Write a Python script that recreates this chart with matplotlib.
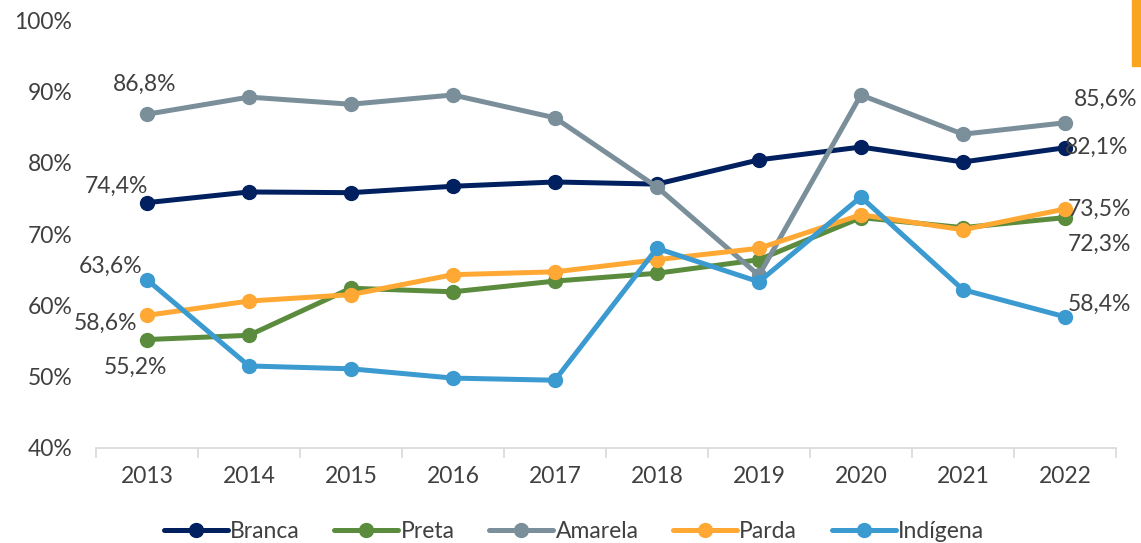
import numpy as np
import matplotlib
matplotlib.use("Agg")
import matplotlib.pyplot as plt
from matplotlib.patches import Rectangle

# Data
years = ["2013", "2014", "2015", "2016", "2017", "2018", "2019", "2020", "2021", "2022"]
branca = [74.4, 75.9, 75.8, 76.7, 77.3, 77.0, 80.4, 82.2, 80.1, 82.1]
preta = [55.2, 55.8, 62.4, 61.9, 63.4, 64.5, 66.4, 72.3, 70.9, 72.3]
amarela = [86.8, 89.2, 88.2, 89.5, 86.3, 76.6, 64.2, 89.5, 84.0, 85.6]
parda = [58.6, 60.6, 61.5, 64.3, 64.7, 66.4, 68.0, 72.7, 70.6, 73.5]
indigena = [63.6, 51.5, 51.1, 49.8, 49.5, 68.0, 63.3, 75.2, 62.2, 58.4]

series = [
    ("Branca", branca, "#002060"),
    ("Preta", preta, "#5B8C3E"),
    ("Amarela", amarela, "#7A8F9A"),
    ("Parda", parda, "#FFA934"),
    ("Indígena", indigena, "#3B9AD0"),
]

plt.rcParams['font.family'] = ['Lato', 'DejaVu Sans']
text_color = "#404040"
fs = 16.5

fig = plt.figure(figsize=(11.41, 5.43), dpi=100)
ax = fig.add_axes([0.0841, 0.175, 0.8939, 0.788])

x = np.arange(len(years))
for name, vals, col in series:
    ax.plot(x, vals, color=col, lw=3.6, marker='o', markersize=10,
            solid_capstyle='round', label=name)

ax.set_xlim(-0.5, len(years) - 0.5)
ax.set_ylim(40, 100)
ax.set_yticks(np.arange(40, 101, 10))
ax.set_yticklabels([f"{v}%" for v in range(40, 101, 10)])
ax.set_xticks(x)
ax.set_xticklabels(years)
ax.set_xticks(np.arange(-0.5, len(years), 1.0), minor=True)
ax.tick_params(axis='x', which='major', length=0, pad=13, labelsize=fs, labelcolor=text_color)
ax.tick_params(axis='x', which='minor', length=7, color="#D9D9D9", width=1.2)
ax.tick_params(axis='y', length=0, pad=17, labelsize=fs, labelcolor=text_color)
for s in ['top', 'right', 'left']:
    ax.spines[s].set_visible(False)
ax.spines['bottom'].set_color("#D9D9D9")
ax.spines['bottom'].set_linewidth(1.2)

# Data labels at first and last points
lab_kw = dict(fontsize=fs, color=text_color)
def fmt(v):
    return f"{v:.1f}%".replace(".", ",")

ax.annotate(fmt(amarela[0]), (0, amarela[0]), xytext=(-2, 14), textcoords='offset points', ha='center', va='bottom', **lab_kw)
ax.annotate(fmt(branca[0]), (0, branca[0]), xytext=(-22, 4), textcoords='offset points', ha='center', va='bottom', **lab_kw)
ax.annotate(fmt(indigena[0]), (0, indigena[0]), xytext=(-26, 2), textcoords='offset points', ha='center', va='bottom', **lab_kw)
ax.annotate(fmt(parda[0]), (0, parda[0]), xytext=(-30, -6), textcoords='offset points', ha='center', va='center', **lab_kw)
ax.annotate(fmt(preta[0]), (0, preta[0]), xytext=(-8, -20), textcoords='offset points', ha='center', va='center', **lab_kw)

ax.annotate(fmt(amarela[-1]), (9, amarela[-1]), xytext=(29, 17), textcoords='offset points', ha='center', va='center', **lab_kw)
ax.annotate(fmt(branca[-1]), (9, branca[-1]), xytext=(0, 0), textcoords='offset points', ha='left', va='center', **lab_kw)
ax.annotate(fmt(parda[-1]), (9, parda[-1]), xytext=(2, 0), textcoords='offset points', ha='left', va='center', **lab_kw)
ax.annotate(fmt(preta[-1]), (9, preta[-1]), xytext=(2, -19), textcoords='offset points', ha='left', va='center', **lab_kw)
ax.annotate(fmt(indigena[-1]), (9, indigena[-1]), xytext=(2, 9), textcoords='offset points', ha='left', va='center', **lab_kw)

leg = fig.legend(loc='center', bbox_to_anchor=(0.503, 0.022), ncol=5, frameon=False,
                 fontsize=fs, handlelength=2.8, handletextpad=0.1, columnspacing=1.5,
                 labelcolor=text_color)

# orange corner mark
fig.patches.append(Rectangle((1132 / 1141, 477 / 543), 9 / 1141, 66 / 543,
                             transform=fig.transFigure, color="#F9A61E", zorder=5))

fig.savefig("out.png", dpi=100)
